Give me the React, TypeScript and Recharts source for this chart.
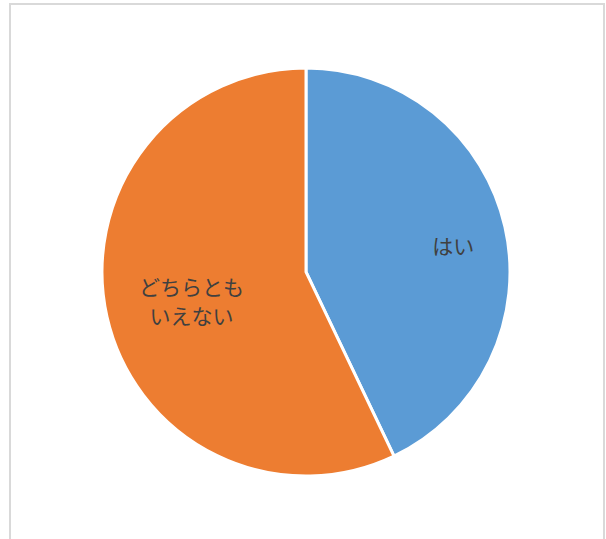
import { PieChart, Pie, Cell } from "recharts";

const categories = ["はい", "どちらとも\nいえない"];
const values = [42.9, 57.1];
const colors = ["#5b9bd5", "#ed7d31"];

const data = categories.map((name, i) => ({ name, value: values[i] }));

// how far out each label sits, as a share of the radius
const labelRatio = [0.74, 0.575];
const RAD = Math.PI / 180;

const renderLabel = (props: any) => {
  const { cx, cy, midAngle, outerRadius, index } = props;
  const r = outerRadius * labelRatio[index];
  const x = cx + r * Math.cos(-midAngle * RAD);
  const y = cy + r * Math.sin(-midAngle * RAD) + (index === 0 ? 6 : 3);
  const lines = categories[index].split("\n");
  const lh = 29;
  const y0 = y - ((lines.length - 1) * lh) / 2;
  return (
    <text
      x={x}
      textAnchor="middle"
      dominantBaseline="central"
      fill="#404040"
      fontSize={21}
      fontFamily="'Noto Sans CJK JP', sans-serif"
    >
      {lines.map((t, i) => (
        <tspan key={i} x={x} y={y0 + i * lh}>
          {t}
        </tspan>
      ))}
    </text>
  );
};

export default function App() {
  return (
    <div style={{ position: "fixed", left: 0, top: 0, width: 606, height: 539, background: "#fff", overflow: "hidden" }}>
      <div
        style={{
          position: "absolute",
          left: 9,
          top: 3,
          width: 592,
          height: 600,
          border: "2px solid #d9d9d9",
        }}
      />
      <div style={{ position: "absolute", left: 0, top: 0 }}>
        <PieChart width={606} height={539} margin={{ top: 0, right: 0, bottom: 0, left: 0 }}>
          <Pie
            data={data}
            dataKey="value"
            nameKey="name"
            cx={306}
            cy={272}
            outerRadius={204}
            startAngle={90}
            endAngle={-270}
            stroke="#ffffff"
            strokeWidth={3}
            labelLine={false}
            label={renderLabel}
            isAnimationActive={false}
          >
            {data.map((d, i) => (
              <Cell key={d.name} fill={colors[i]} />
            ))}
          </Pie>
        </PieChart>
      </div>
    </div>
  );
}
